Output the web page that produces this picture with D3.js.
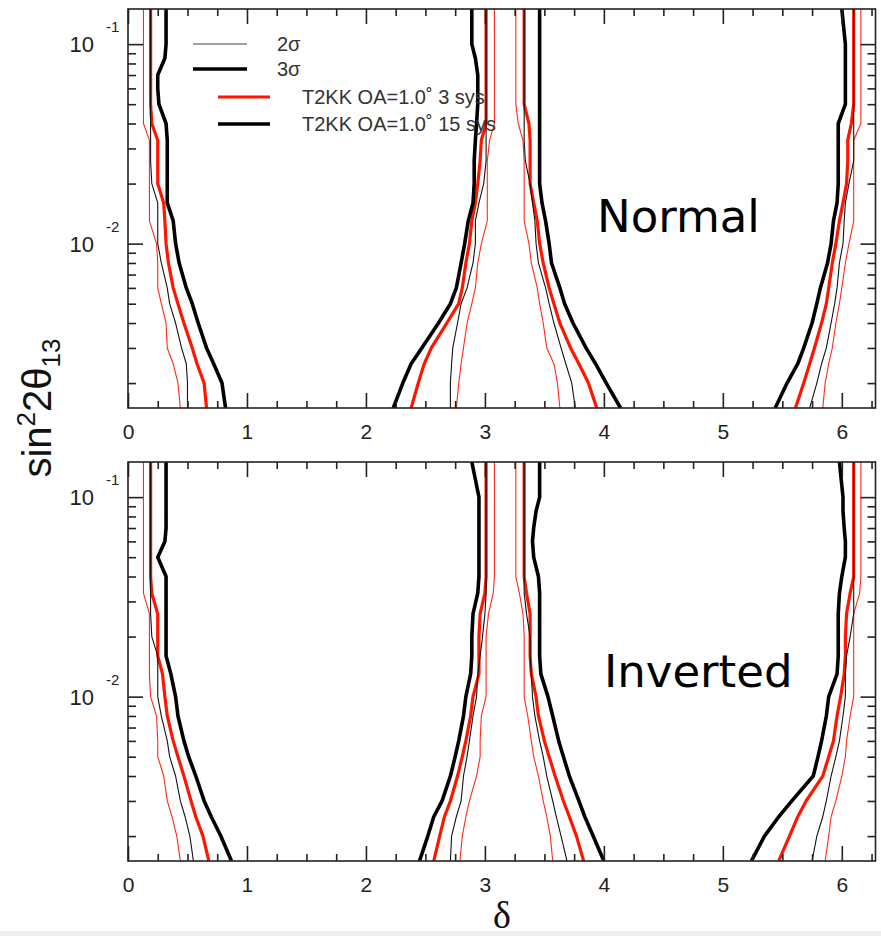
<!DOCTYPE html>
<html>
<head>
<meta charset="utf-8">
<script src="https://cdn.jsdelivr.net/npm/d3@7"></script>
<style>
  html, body { margin: 0; padding: 0; background: #fff; }
  svg { display: block; }
</style>
</head>
<body>
<svg id="chart" width="881" height="936"></svg>
<script>
// sin^2(2θ13) levels at which each contour branch is sampled
const sinGrid = [0.15, 0.1, 0.085, 0.07, 0.06, 0.05, 0.04, 0.033, 0.026, 0.02, 0.016,
                 0.013, 0.01, 0.008, 0.006, 0.005, 0.004, 0.003, 0.0025, 0.002, 0.0015];

// ---- Normal hierarchy: δ of each branch at the sinGrid levels ----
// branch near δ = 0
const normA_3sys_2s  = [0.13,0.13,0.13,0.13,0.13,0.13,0.13,0.18,0.18,0.18,0.18,0.18,0.24,0.25,0.25,0.28,0.32,0.33,0.38,0.42,0.44];
const normA_15sys_2s = [0.19,0.19,0.19,0.19,0.19,0.19,0.19,0.19,0.19,0.20,0.25,0.25,0.25,0.28,0.33,0.35,0.40,0.45,0.49,0.50,0.50];
const normA_3sys_3s  = [0.19,0.19,0.19,0.19,0.19,0.19,0.20,0.25,0.25,0.25,0.30,0.31,0.32,0.34,0.38,0.42,0.47,0.54,0.58,0.64,0.66];
const normA_15sys_3s = [0.32,0.32,0.31,0.25,0.25,0.26,0.32,0.33,0.33,0.33,0.33,0.38,0.40,0.43,0.49,0.54,0.59,0.66,0.72,0.79,0.82];
// branch just below δ = π
const normB_3sys_2s  = [3.08,3.08,3.08,3.08,3.08,3.08,3.08,3.04,3.02,3.02,3.02,3.02,2.97,2.94,2.92,2.89,2.85,2.82,2.80,2.78,2.76];
const normB_15sys_2s = [3.01,3.01,3.01,3.01,3.01,3.01,3.01,3.01,3.01,2.99,2.95,2.92,2.92,2.90,2.85,2.80,2.77,2.73,2.72,2.71,2.71];
const normB_3sys_3s  = [3.01,3.01,3.01,3.01,3.01,3.01,3.01,2.97,2.96,2.94,2.92,2.89,2.87,2.84,2.81,2.78,2.68,2.55,2.49,2.44,2.38];
const normB_15sys_3s = [2.89,2.89,2.92,2.94,2.94,2.94,2.93,2.92,2.91,2.91,2.90,2.86,2.83,2.80,2.76,2.71,2.61,2.47,2.38,2.31,2.23];
// branch just above δ = π
const normC_3sys_2s  = [3.26,3.26,3.26,3.26,3.26,3.26,3.28,3.32,3.33,3.33,3.33,3.33,3.37,3.39,3.44,3.46,3.49,3.52,3.58,3.61,3.63];
const normC_15sys_2s = [3.33,3.33,3.33,3.33,3.33,3.33,3.33,3.33,3.34,3.38,3.40,3.42,3.43,3.45,3.51,3.54,3.58,3.64,3.68,3.73,3.76];
const normC_3sys_3s  = [3.33,3.33,3.33,3.33,3.33,3.33,3.37,3.38,3.38,3.38,3.41,3.44,3.46,3.49,3.54,3.58,3.63,3.72,3.79,3.87,3.94];
const normC_15sys_3s = [3.46,3.46,3.46,3.46,3.46,3.46,3.46,3.46,3.46,3.46,3.48,3.51,3.54,3.56,3.63,3.67,3.74,3.85,3.93,4.02,4.14];
// branch near δ = 2π
const normD_3sys_2s  = [6.16,6.16,6.16,6.16,6.16,6.16,6.16,6.10,6.10,6.10,6.10,6.10,6.06,6.03,6.00,5.98,5.95,5.92,5.89,5.86,5.84];
const normD_15sys_2s = [6.10,6.10,6.10,6.10,6.10,6.10,6.10,6.10,6.10,6.06,6.03,6.02,6.01,5.98,5.96,5.94,5.91,5.87,5.83,5.79,5.73];
const normD_3sys_3s  = [6.10,6.10,6.10,6.10,6.10,6.10,6.08,6.05,6.05,6.04,6.01,5.98,5.95,5.92,5.89,5.87,5.83,5.77,5.73,5.68,5.61];
const normD_15sys_3s = [6.00,6.03,6.03,6.03,6.03,6.03,5.97,5.97,5.97,5.97,5.96,5.93,5.91,5.88,5.82,5.79,5.75,5.68,5.63,5.54,5.44];

// ---- Inverted hierarchy ----
const invA_3sys_2s  = [0.13,0.13,0.13,0.13,0.13,0.13,0.13,0.13,0.18,0.18,0.18,0.18,0.19,0.24,0.25,0.25,0.30,0.33,0.37,0.41,0.44];
const invA_15sys_2s = [0.19,0.19,0.19,0.19,0.19,0.19,0.19,0.19,0.19,0.20,0.25,0.25,0.25,0.28,0.33,0.35,0.40,0.44,0.48,0.52,0.55];
const invA_3sys_3s  = [0.19,0.19,0.19,0.19,0.19,0.19,0.19,0.20,0.25,0.25,0.25,0.29,0.31,0.33,0.38,0.42,0.47,0.53,0.57,0.63,0.68];
const invA_15sys_3s = [0.32,0.32,0.32,0.32,0.31,0.25,0.32,0.32,0.32,0.32,0.32,0.36,0.40,0.42,0.47,0.51,0.57,0.64,0.70,0.78,0.87];
const invB_3sys_2s  = [3.08,3.08,3.08,3.08,3.08,3.08,3.08,3.07,3.03,3.01,3.01,3.01,3.01,2.97,2.96,2.96,2.93,2.87,2.84,2.81,2.79];
const invB_15sys_2s = [3.01,3.01,3.01,3.01,3.01,3.01,3.01,3.01,3.00,2.98,2.96,2.94,2.93,2.90,2.87,2.85,2.82,2.80,2.76,2.72,2.71];
const invB_3sys_3s  = [3.01,3.01,3.01,3.01,3.01,3.01,3.01,3.00,2.96,2.95,2.95,2.95,2.90,2.88,2.84,2.81,2.77,2.71,2.66,2.62,2.57];
const invB_15sys_3s = [2.89,2.95,2.95,2.95,2.95,2.95,2.95,2.94,2.90,2.89,2.89,2.88,2.84,2.82,2.78,2.75,2.71,2.64,2.57,2.52,2.45];
const invC_3sys_2s  = [3.26,3.26,3.26,3.26,3.26,3.26,3.26,3.29,3.32,3.33,3.33,3.33,3.33,3.36,3.39,3.41,3.45,3.49,3.52,3.55,3.57];
const invC_15sys_2s = [3.33,3.33,3.33,3.33,3.33,3.33,3.33,3.33,3.35,3.38,3.38,3.39,3.40,3.42,3.46,3.49,3.52,3.57,3.60,3.64,3.69];
const invC_3sys_3s  = [3.33,3.33,3.33,3.33,3.33,3.33,3.33,3.35,3.38,3.38,3.38,3.39,3.43,3.45,3.50,3.54,3.59,3.66,3.71,3.77,3.83];
const invC_15sys_3s = [3.46,3.46,3.43,3.41,3.40,3.41,3.45,3.46,3.46,3.46,3.46,3.47,3.53,3.57,3.62,3.66,3.71,3.79,3.84,3.91,4.00];
const invD_3sys_2s  = [6.16,6.16,6.16,6.16,6.16,6.16,6.16,6.15,6.10,6.10,6.10,6.10,6.10,6.07,6.04,6.03,6.00,5.95,5.91,5.89,5.86];
const invD_15sys_2s = [6.10,6.10,6.10,6.10,6.10,6.10,6.10,6.10,6.10,6.07,6.04,6.03,6.03,6.01,5.98,5.95,5.91,5.87,5.84,5.79,5.75];
const invD_3sys_3s  = [6.10,6.10,6.10,6.10,6.10,6.10,6.10,6.07,6.04,6.03,6.03,6.02,5.99,5.96,5.93,5.89,5.84,5.70,5.63,5.56,5.47];
const invD_15sys_3s = [5.98,6.01,6.01,6.02,6.03,6.03,6.00,5.98,5.97,5.97,5.97,5.96,5.89,5.87,5.83,5.80,5.76,5.58,5.47,5.35,5.24];

// axis ticks and labels
const xMajorTicks = [0, 1, 2, 3, 4, 5, 6];
const yDecades = [0.1, 0.01];
const yDecadeExponents = ["-1", "-2"];
const legendLabels = ["2σ", "3σ", "T2KK OA=1.0˚ 3 sys", "T2KK OA=1.0˚ 15 sys"];
const panelNames = ["Normal", "Inverted"];

// line styles per curve family
const styles = {
  "3sys_3s":  { stroke: "#ff1500", width: 3.2 },
  "15sys_3s": { stroke: "#000",    width: 3.6 },
  "3sys_2s":  { stroke: "#ff2a1a", width: 1.1 },
  "15sys_2s": { stroke: "#111",    width: 1.1 }
};

const panels = [
  { name: panelNames[0], top: 9, bottom: 408, branches: {
      "3sys_3s":  [normA_3sys_3s, normB_3sys_3s, normC_3sys_3s, normD_3sys_3s],
      "15sys_3s": [normA_15sys_3s, normB_15sys_3s, normC_15sys_3s, normD_15sys_3s],
      "3sys_2s":  [normA_3sys_2s, normB_3sys_2s, normC_3sys_2s, normD_3sys_2s],
      "15sys_2s": [normA_15sys_2s, normB_15sys_2s, normC_15sys_2s, normD_15sys_2s] },
    label: { x: 597, y: 232 }, legend: true },
  { name: panelNames[1], top: 462, bottom: 861, branches: {
      "3sys_3s":  [invA_3sys_3s, invB_3sys_3s, invC_3sys_3s, invD_3sys_3s],
      "15sys_3s": [invA_15sys_3s, invB_15sys_3s, invC_15sys_3s, invD_15sys_3s],
      "3sys_2s":  [invA_3sys_2s, invB_3sys_2s, invC_3sys_2s, invD_3sys_2s],
      "15sys_2s": [invA_15sys_2s, invB_15sys_2s, invC_15sys_2s, invD_15sys_2s] },
    label: { x: 604, y: 687 }, legend: false }
];

const svg = d3.select("#chart");
const left = 128, right = 875.5;
const x = d3.scaleLinear().domain([0, 2 * Math.PI]).range([left, right]);
const xMinorTicks = d3.range(0.25, 2 * Math.PI, 0.25).filter(v => Math.abs(v - Math.round(v)) > 1e-6);
const sansFont = "'Liberation Sans', Arial, Helvetica, sans-serif";

// faint strip along the bottom edge of the page
svg.append("rect").attr("x", 0).attr("y", 931).attr("width", 881).attr("height", 5).attr("fill", "#efefef");

panels.forEach((p, pi) => {
  const y = d3.scaleLog().domain([0.0015, 0.15]).range([p.bottom, p.top]);
  const g = svg.append("g");

  const clipId = "clip" + pi;
  svg.append("clipPath").attr("id", clipId)
    .append("rect").attr("x", left).attr("y", p.top)
    .attr("width", right - left).attr("height", p.bottom - p.top);

  // contour curves
  const line = d3.line().x(d => x(d[1])).y(d => y(d[0]));
  const curves = g.append("g").attr("clip-path", `url(#${clipId})`);
  ["3sys_3s", "15sys_3s", "3sys_2s", "15sys_2s"].forEach(key => {
    p.branches[key].forEach(deltas => {
      curves.append("path")
        .attr("d", line(sinGrid.map((s, i) => [s, deltas[i]])))
        .attr("fill", "none")
        .attr("stroke", styles[key].stroke)
        .attr("stroke-width", styles[key].width)
        .attr("stroke-linejoin", "round");
    });
  });

  // minor log ticks: 2..9 × 10^k within range
  const yMinor = [];
  [0.001, 0.01, 0.1].forEach(dec => {
    for (let m = 2; m <= 9; m++) {
      const v = m * dec;
      if (v > 0.0015 && v < 0.15) yMinor.push(v);
    }
  });

  const axisStyle = sel => {
    sel.select(".domain").remove();
    sel.selectAll(".tick line").attr("stroke", "#222").attr("stroke-width", 1.6);
  };

  // x axes (ticks inward on bottom and top)
  g.append("g").attr("transform", `translate(0,${p.bottom})`)
    .call(d3.axisBottom(x).tickValues(xMajorTicks).tickSize(-15).tickPadding(16).tickFormat(d3.format("d")))
    .call(axisStyle)
    .call(sel => sel.selectAll("text").attr("font-family", sansFont).attr("font-size", 21).attr("fill", "#222"));
  g.append("g").attr("transform", `translate(0,${p.bottom})`)
    .call(d3.axisBottom(x).tickValues(xMinorTicks).tickSize(-7).tickFormat(""))
    .call(axisStyle);
  g.append("g").attr("transform", `translate(0,${p.top})`)
    .call(d3.axisTop(x).tickValues(xMajorTicks).tickSize(-15).tickFormat(""))
    .call(axisStyle);
  g.append("g").attr("transform", `translate(0,${p.top})`)
    .call(d3.axisTop(x).tickValues(xMinorTicks).tickSize(-7).tickFormat(""))
    .call(axisStyle);

  // y axes (ticks inward on left and right)
  g.append("g").attr("transform", `translate(${left},0)`)
    .call(d3.axisLeft(y).tickValues(yDecades).tickSize(-15).tickFormat(""))
    .call(axisStyle);
  g.append("g").attr("transform", `translate(${left},0)`)
    .call(d3.axisLeft(y).tickValues(yMinor).tickSize(-8).tickFormat(""))
    .call(axisStyle);
  g.append("g").attr("transform", `translate(${right},0)`)
    .call(d3.axisRight(y).tickValues(yDecades).tickSize(-15).tickFormat(""))
    .call(axisStyle);
  g.append("g").attr("transform", `translate(${right},0)`)
    .call(d3.axisRight(y).tickValues(yMinor).tickSize(-8).tickFormat(""))
    .call(axisStyle);

  // decade labels 10^-1, 10^-2
  yDecades.forEach((v, i) => {
    g.append("text").attr("x", 94).attr("y", y(v) + 8)
      .attr("text-anchor", "end").attr("font-family", sansFont).attr("font-size", 22)
      .attr("fill", "#222").text("10");
    g.append("text").attr("x", 106).attr("y", y(v) - 12)
      .attr("font-family", sansFont).attr("font-size", 15)
      .attr("fill", "#222").text(yDecadeExponents[i]);
  });

  // frame
  g.append("rect").attr("x", left).attr("y", p.top)
    .attr("width", right - left).attr("height", p.bottom - p.top)
    .attr("fill", "none").attr("stroke", "#222").attr("stroke-width", 1.6);

  // hierarchy label
  g.append("text").attr("x", p.label.x).attr("y", p.label.y)
    .attr("font-family", "'Comic Sans MS', 'DejaVu Sans', sans-serif")
    .attr("font-size", 45).attr("fill", "#000").text(p.name);

  if (p.legend) {
    const rows = [
      { key: "15sys_2s", x1: 193, x2: 247, tx: 277, y: 44 },
      { key: "15sys_3s", x1: 193, x2: 247, tx: 277, y: 69 },
      { key: "3sys_3s",  x1: 218, x2: 270, tx: 302, y: 97 },
      { key: "15sys_3s", x1: 218, x2: 270, tx: 302, y: 124 }
    ];
    rows.forEach((r, i) => {
      g.append("line").attr("x1", r.x1).attr("x2", r.x2).attr("y1", r.y).attr("y2", r.y)
        .attr("stroke", i === 0 ? "#444" : styles[r.key].stroke)
        .attr("stroke-width", styles[r.key].width);
      g.append("text").attr("x", r.tx).attr("y", r.y + 7)
        .attr("font-family", sansFont).attr("font-size", 20).attr("fill", "#333")
        .text(legendLabels[i]);
    });
  }
});

// axis titles
const yTitle = svg.append("text")
  .attr("transform", "translate(51,408) rotate(-90)")
  .attr("text-anchor", "middle")
  .attr("font-family", sansFont).attr("font-size", 40).attr("fill", "#111");
yTitle.append("tspan").text("sin");
yTitle.append("tspan").attr("dy", -16).attr("font-size", 26).text("2");
yTitle.append("tspan").attr("dy", 16).text("2θ");
yTitle.append("tspan").attr("dy", 9).attr("font-size", 26).text("13");

svg.append("text").attr("x", 502).attr("y", 928)
  .attr("text-anchor", "middle")
  .attr("font-family", "'Liberation Serif', 'Times New Roman', serif")
  .attr("font-size", 38).attr("fill", "#111").text("δ");
</script>
</body>
</html>
